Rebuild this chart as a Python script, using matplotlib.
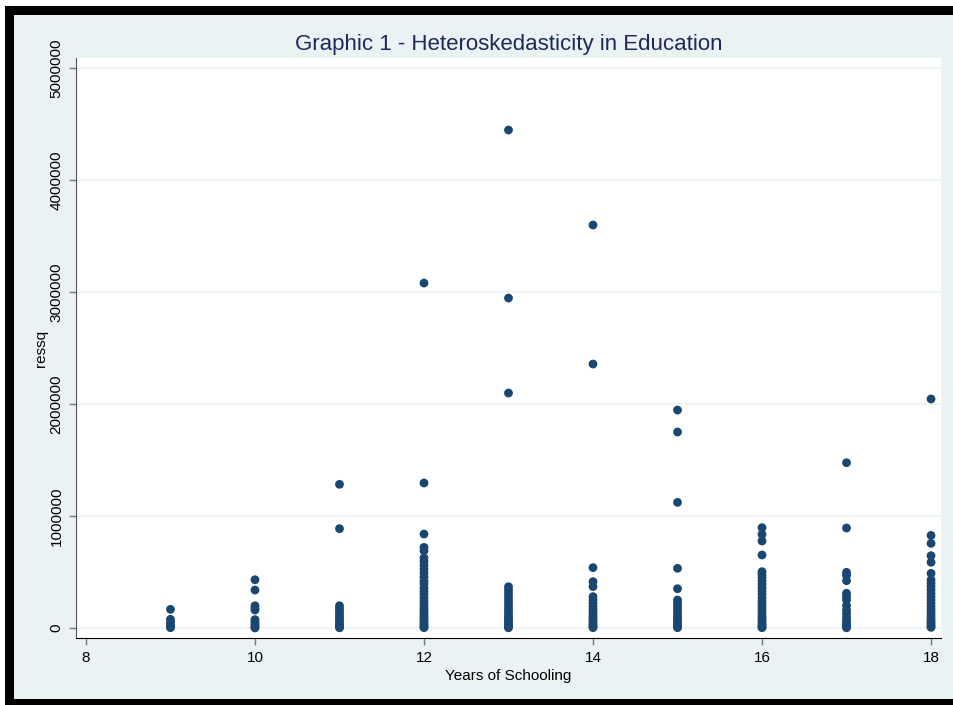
import matplotlib

matplotlib.use("Agg")
import matplotlib.pyplot as plt
from matplotlib.patches import Rectangle

NAVY = "#1a476f"
PANEL = "#eaf2f3"
TITLE = "#1c2a5a"

# squared residuals by years of schooling
res_9 = [167000, 78000, 52000, 30000, 12000, 3000]
res_10 = [431000, 339000, 199000, 178000, 161000, 75000, 56000, 38000, 20000, 8000, 1000]
res_11 = [1283000, 887000, 199000, 175000, 150000, 128000, 105000, 82000, 60000,
          40000, 22000, 9000, 2000]
res_12 = [3080000, 1295000, 839000, 720000, 690000, 625000, 595000, 560000, 525000,
          490000, 455000, 420000, 395000, 360000, 330000, 300000, 270000, 245000,
          220000, 195000, 170000, 150000, 130000, 110000, 90000, 70000, 52000,
          36000, 22000, 10000, 3000]
res_13 = [4446000, 2946000, 2098000, 369000, 340000, 310000, 280000, 250000, 220000,
          190000, 165000, 140000, 115000, 95000, 75000, 55000, 38000, 22000, 10000, 2000]
res_14 = [3598000, 2357000, 539000, 414000, 370000, 280000, 250000, 220000, 195000,
          170000, 145000, 120000, 100000, 80000, 60000, 42000, 26000, 12000, 3000]
res_15 = [1946000, 1750000, 1122000, 533000, 351000, 250000, 225000, 200000, 175000,
          150000, 125000, 100000, 80000, 60000, 42000, 26000, 12000, 3000]
res_16 = [896000, 836000, 777000, 652000, 503000, 475000, 450000, 420000, 390000,
          360000, 330000, 300000, 270000, 240000, 210000, 185000, 160000, 135000,
          110000, 90000, 70000, 52000, 36000, 22000, 10000, 3000]
res_17 = [1476000, 893000, 497000, 470000, 423000, 310000, 280000, 250000, 200000,
          160000, 130000, 100000, 70000, 50000, 30000, 12000, 2000]
res_18 = [2045000, 827000, 756000, 646000, 587000, 488000, 430000, 400000, 370000,
          340000, 310000, 280000, 250000, 220000, 190000, 165000, 140000, 115000,
          90000, 70000, 50000, 32000, 18000, 6000]

years = [9, 10, 11, 12, 13, 14, 15, 16, 17, 18]
residuals = [res_9, res_10, res_11, res_12, res_13, res_14, res_15, res_16, res_17, res_18]

x_ticks = [8, 10, 12, 14, 16, 18]
y_ticks = [0, 1000000, 2000000, 3000000, 4000000, 5000000]

plt.rcParams["font.family"] = ["Liberation Sans", "DejaVu Sans"]

fig = plt.figure(figsize=(9.54, 7.05), dpi=100, facecolor="white")
W, H = 954.0, 705.0

# black frame + light panel
fig.add_artist(Rectangle((5 / W, 0), 1 - 5 / W, 1 - 6 / H, transform=fig.transFigure,
                         facecolor="black", edgecolor="none", zorder=-3))
fig.add_artist(Rectangle((14 / W, 6 / H), 1 - 14 / W, 1 - 21 / H, transform=fig.transFigure,
                         facecolor=PANEL, edgecolor="none", zorder=-2))

ax = fig.add_axes([76 / W, 67 / H, (941 - 76) / W, (638 - 58) / H])
ax.set_facecolor("white")

xs, ys = [], []
for yr, vals in zip(years, residuals):
    xs.extend([yr] * len(vals))
    ys.extend(vals)
ax.scatter(xs, ys, s=40, color=NAVY, edgecolors="none", zorder=3)

ax.set_xlim(7.882, 18.118)
ax.set_ylim(-89000, 5089000)
ax.set_xticks(x_ticks)
ax.set_yticks(y_ticks)
ax.set_yticklabels([str(v) for v in y_ticks], rotation=90, va="center")
ax.tick_params(axis="both", labelsize=11, length=5, width=1, color="#777777",
               labelcolor="black", pad=4)
ax.grid(axis="y", color=PANEL, lw=1.2, zorder=0)
ax.set_axisbelow(True)
for side in ("top", "right"):
    ax.spines[side].set_visible(False)
ax.spines["left"].set_color("#555555")
ax.spines["bottom"].set_color("black")

ax.set_xlabel("Years of Schooling", fontsize=11, labelpad=3)
ax.set_ylabel("ressq", fontsize=11, labelpad=1)
ax.set_title("Graphic 1 - Heteroskedasticity in Education", fontsize=16,
             color=TITLE, pad=6)

fig.savefig("out.png", dpi=100, facecolor=fig.get_facecolor())
